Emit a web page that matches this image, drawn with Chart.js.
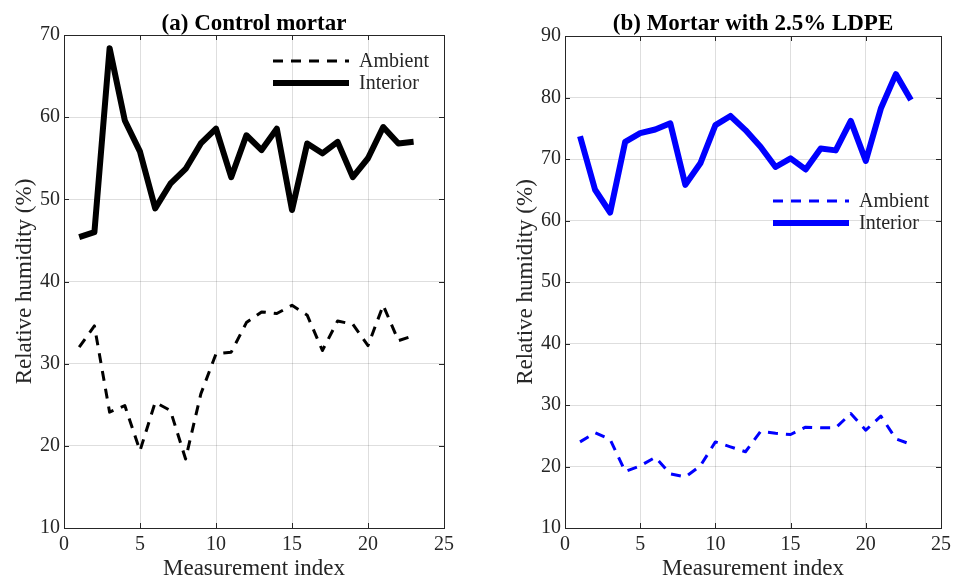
<!DOCTYPE html>
<html>
<head>
<meta charset="utf-8">
<script src="https://cdn.jsdelivr.net/npm/chart.js@4.4.0/dist/chart.umd.min.js"></script>
<style>
    html, body { margin: 0; padding: 0; background: #fff; }
    #wrap { position: relative; width: 956px; height: 579px; }
    #chartA { position: absolute; left: 0; top: 0; }
    #chartB { position: absolute; left: 480px; top: 0; }
</style>
</head>
<body>
<div id="wrap">
    <canvas id="chartA" width="480" height="579"></canvas>
    <canvas id="chartB" width="476" height="579"></canvas>
</div>
<script>
// values
const measurementIndex = [1, 2, 3, 4, 5, 6, 7, 8, 9, 10, 11, 12, 13, 14, 15, 16, 17, 18, 19, 20, 21, 22, 23];
const controlAmbient  = [32.0, 34.6, 24.1, 24.9, 19.4, 25.3, 24.3, 18.4, 26.3, 31.2, 31.4, 35.0, 36.3, 36.1, 37.1, 35.9, 31.6, 35.2, 34.8, 32.2, 37.1, 32.8, 33.4];
const controlInterior = [45.4, 46.0, 68.4, 59.6, 55.8, 48.9, 51.9, 53.7, 56.8, 58.6, 52.7, 57.8, 56.0, 58.6, 48.7, 56.8, 55.6, 57.0, 52.7, 55.0, 58.8, 56.8, 57.0];
const ldpeAmbient  = [24.0, 25.5, 24.4, 19.2, 20.1, 21.5, 18.8, 18.3, 20.1, 24.0, 23.2, 22.4, 25.7, 25.4, 25.2, 26.4, 26.3, 26.3, 28.6, 25.9, 28.2, 24.5, 23.6];
const ldpeInterior = [73.7, 65.0, 61.3, 72.8, 74.2, 74.8, 75.8, 65.8, 69.3, 75.5, 77.0, 74.7, 72.0, 68.7, 70.1, 68.3, 71.7, 71.4, 76.2, 69.7, 78.2, 83.8, 79.6];
const seriesNames = ["Ambient", "Interior"];
const xRange = [0, 25];
const controlYRange = [10, 70];
const ldpeYRange = [10, 90];

Chart.defaults.font.family = "'Liberation Serif', 'Times New Roman', serif";
Chart.defaults.color = "#262626";

const serif = "'Liberation Serif', 'Times New Roman', serif";

// box, inner ticks, title and legend drawn inside the plot like MATLAB does
const panelDecor = {
    id: "panelDecor",
    afterDraw(chart, args, opts) {
        const ctx = chart.ctx;
        const a = chart.chartArea;
        const xs = chart.scales.x, ys = chart.scales.y;
        ctx.save();
        ctx.strokeStyle = "#262626";
        ctx.lineWidth = 1;
        ctx.strokeRect(Math.round(a.left) + 0.5, Math.round(a.top) + 0.5, Math.round(a.right - a.left), Math.round(a.bottom - a.top));
        ctx.beginPath();
        xs.ticks.forEach(t => {
            const px = Math.round(xs.getPixelForValue(t.value)) + 0.5;
            ctx.moveTo(px, a.bottom); ctx.lineTo(px, a.bottom - 5);
            ctx.moveTo(px, a.top); ctx.lineTo(px, a.top + 5);
        });
        ys.ticks.forEach(t => {
            const py = Math.round(ys.getPixelForValue(t.value)) + 0.5;
            ctx.moveTo(a.left, py); ctx.lineTo(a.left + 5, py);
            ctx.moveTo(a.right, py); ctx.lineTo(a.right - 5, py);
        });
        ctx.stroke();

        ctx.fillStyle = "#000";
        ctx.font = "bold 23px " + serif;
        ctx.textAlign = "center";
        ctx.textBaseline = "alphabetic";
        ctx.fillText(opts.text, (a.left + a.right) / 2, 30);

        const x0 = a.left + opts.legendDx;
        const y0 = a.top + opts.legendDy;
        chart.data.datasets.forEach((ds, i) => {
            const y = y0 + i * 22;
            ctx.strokeStyle = ds.borderColor;
            ctx.lineWidth = ds.borderWidth;
            ctx.setLineDash(ds.borderDash || []);
            ctx.beginPath();
            ctx.moveTo(x0, y);
            ctx.lineTo(x0 + 76, y);
            ctx.stroke();
            ctx.setLineDash([]);
            ctx.fillStyle = "#262626";
            ctx.font = "20px " + serif;
            ctx.textAlign = "left";
            ctx.textBaseline = "middle";
            ctx.fillText(ds.label, x0 + 86, y + 1);
        });
        ctx.restore();
    }
};

function makePanel(canvasId, color, ambient, interior, yRange, cfg) {
    const toPoints = vals => measurementIndex.map((x, i) => ({ x: x, y: vals[i] }));
    return new Chart(document.getElementById(canvasId), {
        type: "line",
        data: {
            datasets: [{
                label: seriesNames[0],
                data: toPoints(ambient),
                borderColor: color,
                borderWidth: 3,
                borderDash: [10, 8],
                borderJoinStyle: "round",
                pointRadius: 0,
                tension: 0
            }, {
                label: seriesNames[1],
                data: toPoints(interior),
                borderColor: color,
                borderWidth: 6,
                borderJoinStyle: "round",
                pointRadius: 0,
                tension: 0
            }]
        },
        options: {
            responsive: false,
            animation: false,
            layout: { padding: { top: cfg.top, right: cfg.right, left: 0, bottom: 0 } },
            scales: {
                x: {
                    type: "linear",
                    min: xRange[0],
                    max: xRange[1],
                    ticks: { stepSize: 5, padding: 5, font: { size: 20 }, color: "#262626" },
                    grid: { color: "rgba(0,0,0,0.13)", drawTicks: false },
                    border: { display: true, color: "#262626" },
                    title: { display: true, text: "Measurement index", font: { size: 23 }, color: "#262626", padding: { top: 0, bottom: -4 } },
                    afterFit: s => { s.height = 51; }
                },
                y: {
                    min: yRange[0],
                    max: yRange[1],
                    ticks: { stepSize: 10, padding: 4, font: { size: 20 }, color: "#262626" },
                    grid: { color: "rgba(0,0,0,0.13)", drawTicks: false },
                    border: { display: true, color: "#262626" },
                    title: { display: true, text: "Relative humidity (%)", font: { size: 23 }, color: "#262626", padding: { top: cfg.titlePad, bottom: 0 } },
                    afterFit: s => { s.width = cfg.yWidth; }
                }
            },
            plugins: {
                legend: { display: false },
                title: { display: false },
                tooltip: { enabled: false },
                panelDecor: { text: cfg.title, legendDx: cfg.legendDx, legendDy: cfg.legendDy }
            }
        },
        plugins: [panelDecor]
    });
}

makePanel("chartA", "#000000", controlAmbient, controlInterior, controlYRange,
    { title: "(a) Control mortar", top: 35, right: 36, yWidth: 64, titlePad: 11, legendDx: 209, legendDy: 26 });
makePanel("chartB", "#0000ff", ldpeAmbient, ldpeInterior, ldpeYRange,
    { title: "(b) Mortar with 2.5% LDPE", top: 36, right: 14, yWidth: 85, titlePad: 32, legendDx: 208, legendDy: 165 });
</script>
</body>
</html>
